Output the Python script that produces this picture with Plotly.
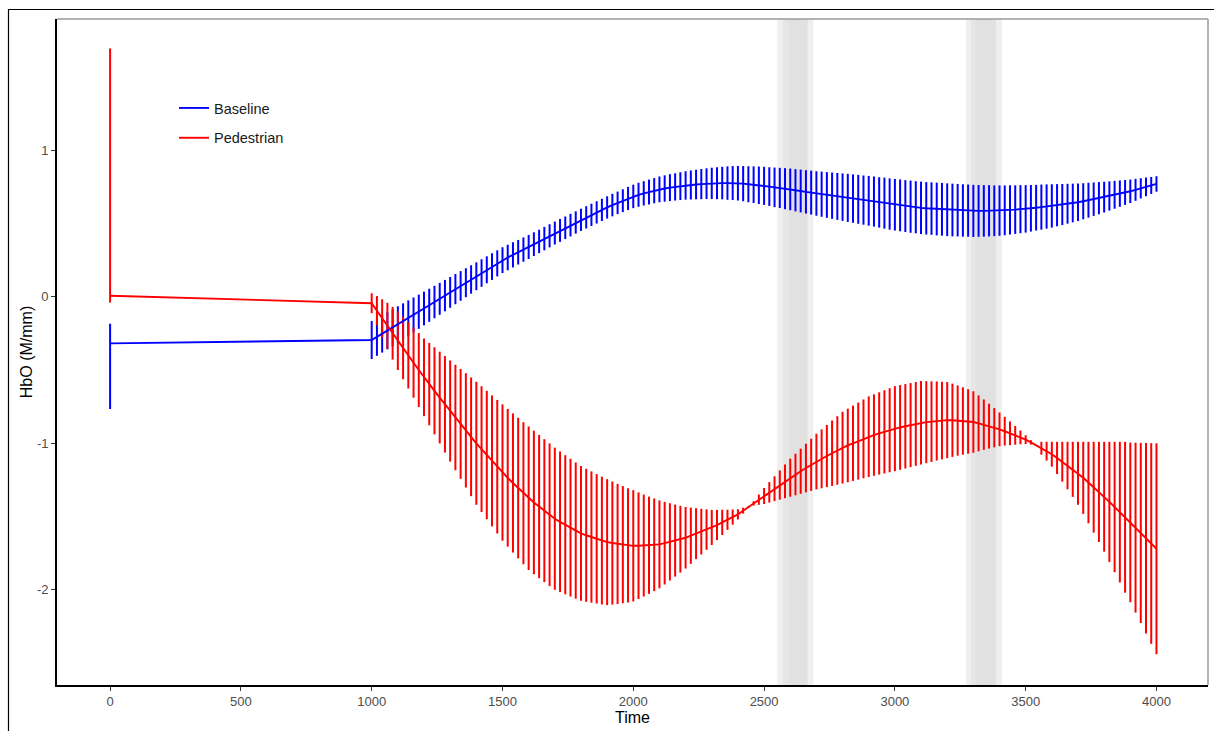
import plotly.graph_objects as go

# Sample times: one onset sample, then a regular 20-unit grid from 1000 to 4000
onset_time = 0
grid_time = list(range(1000, 4001, 20))

# Onset sample (mean, lower, upper)
onset_baseline = (-0.318, -0.766, -0.184)
onset_pedestrian = (0.007, -0.040, 1.695)

baseline_mean = [
    -0.295, -0.274, -0.253, -0.232, -0.211, -0.190, -0.168, -0.146, -0.124, -0.102,
    -0.080, -0.058, -0.036, -0.014, 0.008, 0.030, 0.052, 0.074, 0.096, 0.118,
    0.140, 0.162, 0.184, 0.206, 0.228, 0.250, 0.268, 0.286, 0.304, 0.322,
    0.340, 0.359, 0.378, 0.397, 0.416, 0.435, 0.453, 0.471, 0.489, 0.507,
    0.525, 0.542, 0.559, 0.576, 0.593, 0.610, 0.626, 0.641, 0.656, 0.671,
    0.685, 0.696, 0.706, 0.715, 0.724, 0.733, 0.739, 0.745, 0.750, 0.755,
    0.760, 0.763, 0.766, 0.769, 0.772, 0.774, 0.775, 0.776, 0.776, 0.776,
    0.775, 0.772, 0.768, 0.765, 0.761, 0.757, 0.752, 0.747, 0.743, 0.738,
    0.733, 0.727, 0.722, 0.716, 0.711, 0.705, 0.700, 0.695, 0.690, 0.685,
    0.680, 0.675, 0.670, 0.665, 0.660, 0.655, 0.650, 0.644, 0.639, 0.633,
    0.628, 0.624, 0.619, 0.615, 0.611, 0.607, 0.604, 0.602, 0.599, 0.597,
    0.594, 0.592, 0.591, 0.589, 0.588, 0.586, 0.586, 0.586, 0.587, 0.587,
    0.588, 0.590, 0.593, 0.595, 0.598, 0.600, 0.604, 0.608, 0.612, 0.616,
    0.620, 0.625, 0.630, 0.635, 0.640, 0.645, 0.652, 0.659, 0.666, 0.673,
    0.680, 0.688, 0.696, 0.704, 0.712, 0.720, 0.730, 0.740, 0.750, 0.760,
    0.770,
]

baseline_spread = [
    0.130, 0.129, 0.128, 0.127, 0.126, 0.125, 0.123, 0.121, 0.119, 0.117,
    0.115, 0.113, 0.111, 0.109, 0.107, 0.105, 0.103, 0.101, 0.099, 0.097,
    0.095, 0.094, 0.092, 0.091, 0.089, 0.088, 0.087, 0.086, 0.084, 0.083,
    0.082, 0.081, 0.080, 0.080, 0.079, 0.078, 0.078, 0.077, 0.077, 0.076,
    0.076, 0.076, 0.076, 0.076, 0.076, 0.076, 0.077, 0.077, 0.078, 0.079,
    0.080, 0.082, 0.083, 0.085, 0.086, 0.088, 0.090, 0.092, 0.093, 0.095,
    0.097, 0.099, 0.101, 0.103, 0.105, 0.107, 0.109, 0.111, 0.114, 0.116,
    0.118, 0.120, 0.123, 0.125, 0.128, 0.130, 0.132, 0.135, 0.137, 0.140,
    0.142, 0.144, 0.146, 0.148, 0.150, 0.152, 0.154, 0.156, 0.158, 0.160,
    0.162, 0.164, 0.165, 0.167, 0.168, 0.170, 0.171, 0.172, 0.174, 0.175,
    0.176, 0.177, 0.177, 0.178, 0.178, 0.179, 0.179, 0.179, 0.180, 0.180,
    0.180, 0.180, 0.179, 0.179, 0.178, 0.178, 0.177, 0.176, 0.175, 0.173,
    0.172, 0.170, 0.168, 0.166, 0.164, 0.162, 0.159, 0.156, 0.154, 0.151,
    0.148, 0.144, 0.140, 0.136, 0.132, 0.128, 0.123, 0.119, 0.114, 0.110,
    0.105, 0.100, 0.095, 0.090, 0.085, 0.080, 0.075, 0.069, 0.064, 0.058,
    0.053,
]

pedestrian_mean = [
    -0.044, -0.095, -0.147, -0.198, -0.249, -0.300, -0.350, -0.400, -0.450, -0.500,
    -0.550, -0.596, -0.642, -0.688, -0.734, -0.780, -0.824, -0.868, -0.912, -0.956,
    -1.000, -1.040, -1.080, -1.120, -1.160, -1.200, -1.236, -1.271, -1.306, -1.341,
    -1.375, -1.404, -1.432, -1.460, -1.488, -1.515, -1.536, -1.556, -1.576, -1.596,
    -1.615, -1.628, -1.640, -1.652, -1.664, -1.675, -1.681, -1.687, -1.692, -1.697,
    -1.700, -1.699, -1.698, -1.696, -1.693, -1.690, -1.682, -1.673, -1.664, -1.655,
    -1.645, -1.631, -1.617, -1.603, -1.589, -1.575, -1.558, -1.540, -1.522, -1.504,
    -1.485, -1.460, -1.435, -1.410, -1.385, -1.360, -1.335, -1.310, -1.285, -1.260,
    -1.235, -1.213, -1.191, -1.169, -1.147, -1.125, -1.106, -1.087, -1.068, -1.049,
    -1.030, -1.015, -1.000, -0.985, -0.970, -0.955, -0.944, -0.933, -0.922, -0.911,
    -0.900, -0.892, -0.884, -0.876, -0.868, -0.860, -0.856, -0.852, -0.848, -0.845,
    -0.842, -0.843, -0.845, -0.848, -0.851, -0.855, -0.864, -0.873, -0.883, -0.894,
    -0.905, -0.918, -0.932, -0.946, -0.960, -0.975, -0.994, -1.014, -1.034, -1.054,
    -1.075, -1.100, -1.126, -1.152, -1.178, -1.205, -1.236, -1.268, -1.300, -1.332,
    -1.365, -1.400, -1.435, -1.470, -1.505, -1.540, -1.576, -1.612, -1.648, -1.684,
    -1.720,
]

pedestrian_spread = [
    0.068, 0.100, 0.130, 0.157, 0.180, 0.200, 0.213, 0.226, 0.239, 0.252,
    0.265, 0.281, 0.297, 0.313, 0.329, 0.345, 0.360, 0.375, 0.390, 0.405,
    0.420, 0.429, 0.438, 0.447, 0.456, 0.465, 0.470, 0.475, 0.480, 0.485,
    0.490, 0.490, 0.489, 0.488, 0.487, 0.485, 0.480, 0.475, 0.470, 0.465,
    0.460, 0.454, 0.448, 0.442, 0.436, 0.430, 0.420, 0.410, 0.400, 0.390,
    0.380, 0.364, 0.348, 0.332, 0.316, 0.300, 0.282, 0.264, 0.246, 0.228,
    0.210, 0.192, 0.174, 0.156, 0.138, 0.120, 0.103, 0.086, 0.069, 0.052,
    0.035, 0.020, 0.005, 0.015, 0.035, 0.055, 0.070, 0.085, 0.100, 0.115,
    0.130, 0.142, 0.154, 0.166, 0.178, 0.190, 0.201, 0.212, 0.223, 0.234,
    0.245, 0.251, 0.257, 0.263, 0.269, 0.275, 0.278, 0.281, 0.284, 0.287,
    0.290, 0.289, 0.288, 0.287, 0.286, 0.285, 0.280, 0.275, 0.270, 0.265,
    0.260, 0.250, 0.240, 0.230, 0.220, 0.210, 0.191, 0.172, 0.153, 0.134,
    0.115, 0.098, 0.081, 0.064, 0.047, 0.030, 0.015, 0.002, 0.044, 0.064,
    0.085, 0.110, 0.136, 0.162, 0.188, 0.215, 0.246, 0.278, 0.310, 0.342,
    0.375, 0.410, 0.445, 0.480, 0.515, 0.545, 0.580, 0.615, 0.650, 0.685,
    0.720,
]

# Shaded event windows (overlapping translucent rectangles)
event_start = [2550, 2571, 2594, 3272, 3291, 3312]
event_end = [2666, 2688, 2666, 3386, 3409, 3386]

x_ticks = [0, 500, 1000, 1500, 2000, 2500, 3000, 3500, 4000]
y_ticks = [-2, -1, 0, 1]
y_tick_text = ["-2", "-1", "0", "1"]

BLUE = "#0000FF"
RED = "#FF0000"
FONT = "Liberation Sans, Arial, sans-serif"


def series(onset, mean, spread):
    x = [onset_time] + grid_time
    y = [onset[0]] + mean
    plus = [onset[2] - onset[0]] + spread
    minus = [onset[0] - onset[1]] + spread
    return x, y, plus, minus


groups = [
    ("Baseline", BLUE, series(onset_baseline, baseline_mean, baseline_spread)),
    ("Pedestrian", RED, series(onset_pedestrian, pedestrian_mean, pedestrian_spread)),
]

fig = go.Figure()

# Error bars first, so both mean lines sit on top
for name, color, (x, y, plus, minus) in groups:
    fig.add_trace(go.Scatter(
        x=x, y=y, mode="lines", line=dict(width=0, color=color),
        showlegend=False, hoverinfo="skip",
        error_y=dict(type="data", symmetric=False, array=plus, arrayminus=minus,
                     color=color, thickness=2, width=0),
    ))

for name, color, (x, y, plus, minus) in groups:
    fig.add_trace(go.Scatter(
        x=x, y=y, mode="lines", name=name, legendgroup=name,
        line=dict(color=color, width=1.9),
    ))

shapes = []
for x0, x1 in zip(event_start, event_end):
    shapes.append(dict(type="rect", xref="x", yref="paper", x0=x0, x1=x1, y0=0, y1=1,
                       fillcolor="rgba(218,218,218,0.44)", line=dict(width=0),
                       layer="below"))

# Outer frame (top/left) and the light panel border (top/right)
W, H = 1214, 731
L, R, T, B = 57, 6, 19, 46
pw, ph = W - L - R, H - T - B


def px(xp):
    return (xp - L) / pw


def py(yp):
    return (H - B - yp) / ph


shapes += [
    dict(type="line", xref="paper", yref="paper", x0=px(8), x1=px(W), y0=py(9.5), y1=py(9.5),
         line=dict(color="#000000", width=1.2)),
    dict(type="line", xref="paper", yref="paper", x0=px(8.5), x1=px(8.5), y0=py(9), y1=py(H),
         line=dict(color="#000000", width=1.2)),
    dict(type="line", xref="paper", yref="paper", x0=0, x1=1, y0=1, y1=1,
         line=dict(color="#9a9a9a", width=1.5)),
    dict(type="line", xref="paper", yref="paper", x0=1, x1=1, y0=0, y1=1,
         line=dict(color="#9a9a9a", width=1.5)),
]

fig.update_layout(
    width=W, height=H,
    margin=dict(l=L, r=R, t=T, b=B, pad=0),
    paper_bgcolor="white", plot_bgcolor="white",
    font=dict(family=FONT, color="#000000"),
    shapes=shapes,
    showlegend=True,
    legend=dict(x=px(174), y=py(92), xanchor="left", yanchor="top",
                bgcolor="rgba(0,0,0,0)", font=dict(size=14.5, color="#1a1a1a"),
                traceorder="grouped", tracegroupgap=8),
    hovermode=False,
)

fig.update_xaxes(
    range=[-203, 4197], tickvals=x_ticks,
    showgrid=False, zeroline=False,
    showline=True, linecolor="#000000", linewidth=1.6,
    ticks="outside", ticklen=4, tickcolor="#333333", tickwidth=1.2,
    tickfont=dict(size=13, color="#4d4d4d", family=FONT),
    title=dict(text="Time", font=dict(size=16, color="#000000", family=FONT), standoff=2),
)
fig.update_yaxes(
    range=[-2.65, 1.896], tickvals=y_ticks, ticktext=y_tick_text,
    showgrid=False, zeroline=False,
    showline=True, linecolor="#000000", linewidth=1.6,
    ticks="outside", ticklen=4, tickcolor="#333333", tickwidth=1.2,
    tickfont=dict(size=13, color="#4d4d4d", family=FONT),
    title=dict(text="HbO (M/mm)", font=dict(size=16, color="#000000", family=FONT), standoff=0),
)

fig.write_html("out.html", config={"displayModeBar": False})
